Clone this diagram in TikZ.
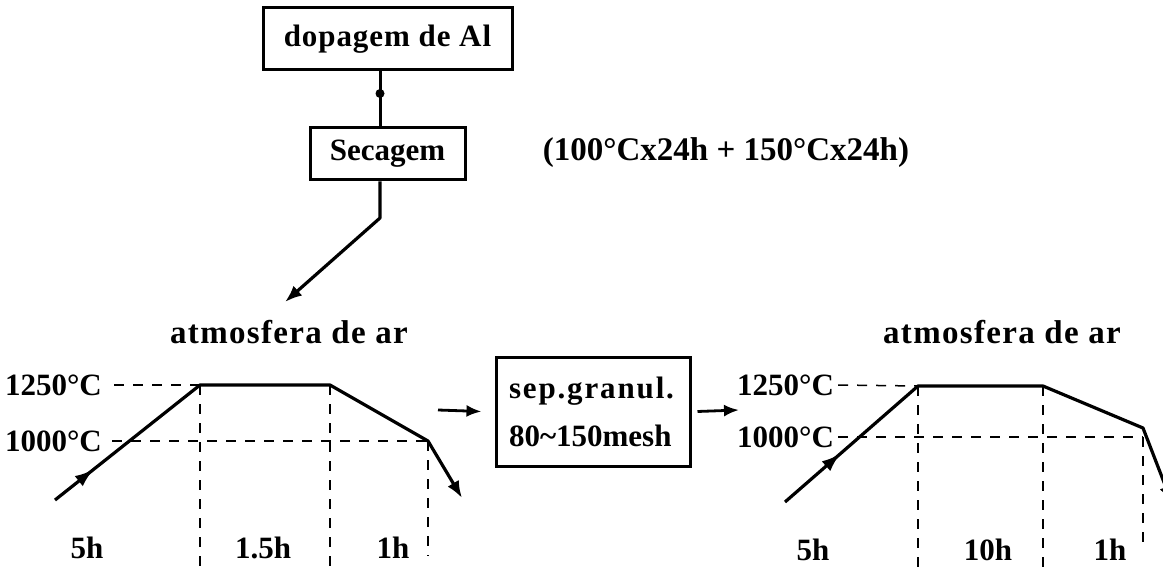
\documentclass[tikz,border=0pt]{standalone}
\usepackage{fontspec}
\setmainfont{Liberation Serif}
\usetikzlibrary{arrows.meta,decorations.markings}
\begin{document}
\begin{tikzpicture}[x=1pt,y=-1pt,
  lbl/.style={font=\fontsize{31}{48}\selectfont\bfseries, inner sep=0pt},
  box/.style={draw, line width=3pt, inner sep=0pt},
  guide/.style={line width=1.5pt, dash pattern=on 10pt off 9pt},
  arr/.style={line width=3.2pt, line join=round, -{Latex[length=17pt,width=13pt]}},
  midarrow/.style={postaction={decorate}, decoration={markings,
      mark=at position #1 with {\arrow{Latex[length=19pt,width=13pt]}}}},
]
\useasboundingbox (0,0) rectangle (1163,567);
\clip (0,0) rectangle (1163,567);

% top boxes
\node[box, lbl, minimum width=249pt, minimum height=62pt] (dop) at (387.5,39)
  {\addfontfeatures{LetterSpace=3}dopagem de Al};
\node[box, lbl, minimum width=155pt, minimum height=52pt] (sec) at (387.5,154) {Secagem};
\node[lbl, font=\fontsize{33}{40}\selectfont\bfseries] (cond) at (726,153) {(100°Cx24h + 150°Cx24h)};

\draw[line width=3pt] ([xshift=-7.5pt]dop.south) --
  node[pos=0.4, circle, fill, inner sep=0pt, minimum size=9pt] (dot) {}
  ([xshift=-7.5pt]sec.north);
\coordinate (bend) at (380,218);
\coordinate (a1) at (285,302);
\draw[arr] ([xshift=-7.5pt]sec.south) -- (bend) -- (a1);

% atmosphere labels
\node[lbl, font=\fontsize{33}{40}\selectfont\bfseries] (atm1) at (289,332)
  {\addfontfeatures{LetterSpace=4}atmosfera de ar};
\node[lbl, font=\fontsize{33}{40}\selectfont\bfseries] (atm2) at (1002,332)
  {\addfontfeatures{LetterSpace=4}atmosfera de ar};

% left graph
\node[lbl, anchor=east] (lt1) at (102,385) {1250°C};
\node[lbl, anchor=east] (lt2) at (102,441) {1000°C};
\coordinate (L0) at (55,500);
\coordinate (L1) at (200,385);
\coordinate (L2) at (330,385);
\coordinate (L3) at (428,441);
\coordinate (L4) at (462,498);
\coordinate (LB1) at (200,567);
\coordinate (LB2) at (330,567);
\coordinate (LB3) at (428,556);
\draw[guide] ([xshift=12pt]lt1.east) -- (L1);
\draw[guide] ([xshift=10pt]lt2.east) -- (L3);
\draw[guide] (L1) -- (LB1);
\draw[guide] (L2) -- (LB2);
\draw[guide] (L3) -- (LB3);
\draw[arr, midarrow=0.1] (L0) -- (L1) -- (L2) -- (L3) -- (L4);
\node[lbl] (lh1) at (87,548) {5h};
\node[lbl] (lh2) at (263,548) {1.5h};
\node[lbl] (lh3) at (393,548) {1h};

% sieving box
\node[box, lbl, minimum width=194pt, minimum height=109pt, text width=168pt,
      align=left, inner xsep=13pt] (sep) at (593,411.5)
  {{\addfontfeatures{LetterSpace=6}sep.granul.}\\80\textasciitilde150mesh};
\coordinate (g1) at (438,410);
\coordinate (g2) at (739,410);
\draw[arr, line width=2.8pt, -{Latex[length=15pt,width=12pt]}] (g1) -- ([xshift=-13pt]sep.west);
\draw[arr, line width=2.8pt, -{Latex[length=15pt,width=12pt]}] ([xshift=6pt]sep.east) -- (g2);

% right graph
\node[lbl, anchor=west] (rt1) at (737,385) {1250°C};
\node[lbl, anchor=west] (rt2) at (737,437) {1000°C};
\coordinate (R0) at (785,502);
\coordinate (R1) at (918,386);
\coordinate (R2) at (1043,386);
\coordinate (R3) at (1143,428);
\coordinate (R4) at (1172,503);
\coordinate (RC) at (1143,437);
\coordinate (RB1) at (918,567);
\coordinate (RB2) at (1043,567);
\coordinate (RB3) at (1143,545);
\draw[guide] ([xshift=4pt]rt1.east) -- (R1);
\draw[guide] ([xshift=4pt]rt2.east) -- (RC);
\draw[guide] (R1) -- (RB1);
\draw[guide] (R2) -- (RB2);
\draw[guide] (RC) -- (RB3);
\draw[arr, midarrow=0.15] (R0) -- (R1) -- (R2) -- (R3) -- (R4);
\node[lbl] (rh1) at (813,550) {5h};
\node[lbl] (rh2) at (988,550) {10h};
\node[lbl] (rh3) at (1110,550) {1h};
\end{tikzpicture}
\end{document}
